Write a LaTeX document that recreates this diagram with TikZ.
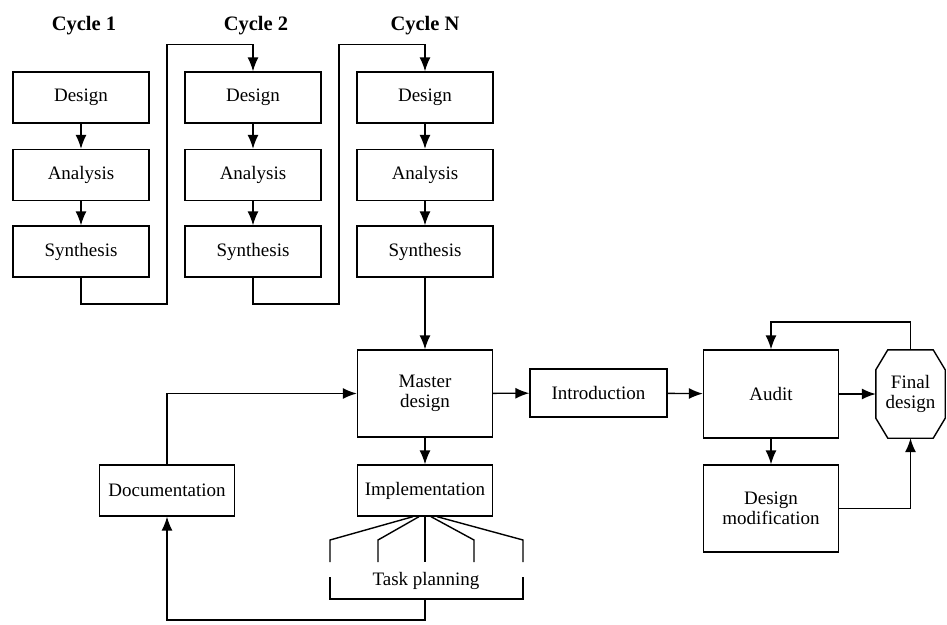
\documentclass[tikz,border=0pt]{standalone}
\usepackage{fontspec}
\setmainfont{Liberation Serif}
\usetikzlibrary{arrows.meta}

\tikzset{
  box/.style={draw, line width=1.3pt, minimum width=136pt, minimum height=51pt, inner sep=0pt, align=center},
  bigbox/.style={box, minimum height=87pt},
  title/.style={font=\fontsize{20.5}{22}\selectfont\bfseries},
  flow/.style={line width=1.4pt, -{Latex[length=14pt,width=11pt]}},
  line/.style={line width=1.4pt}
}

\begin{document}
\begin{tikzpicture}[x=1pt, y=-1pt, font=\fontsize{19}{20.5}\selectfont]

            \useasboundingbox (0,0) rectangle (947,624);

            % Zyklen
            \node[title] (t1) at (84,26) {Cycle 1};
            \node[title] (t2) at (256,26) {Cycle 2};
            \node[title] (t3) at (425,26) {Cycle N};

            \foreach \c/\x in {1/81, 2/253, 3/425} {
              \node[box] (d\c) at (\x,97.5) {Design};
              \node[box] (a\c) at (\x,175) {Analysis};
              \node[box] (s\c) at (\x,251.5) {Synthesis};
              \draw[flow] (d\c) -- (a\c);
              \draw[flow] (a\c) -- (s\c);
            }

            % Uebergaenge zwischen den Zyklen
            \coordinate (k1) at (167,304);
            \coordinate (k2) at (339,304);
            \draw[flow] (s1.south) |- (k1) |- ([yshift=27pt]d2.north) -- (d2.north);
            \draw[flow] (s2.south) |- (k2) |- ([yshift=27pt]d3.north) -- (d3.north);

            % Hauptentwurf
            \node[bigbox, minimum width=135pt] (master) at (425,393.5) {Master\\design};
            \node[box, minimum width=135pt] (impl) at (425,490.5) {Implementation};
            \node[box, minimum width=135pt] (doc) at (167,490.5) {Documentation};
            \node[box, minimum width=137pt, minimum height=48pt] (intro) at (598.5,393) {Introduction};
            \node[bigbox, minimum width=135pt, minimum height=88pt] (audit) at (771,394) {Audit};
            \node[bigbox, minimum width=135pt] (mod) at (771,508.5) {Design\\modification};

            % Achteck
            \node[minimum width=69pt, minimum height=88pt, inner sep=0pt, align=center] (fin) at (910.5,394) {Final\\design};
            \draw[line] ([xshift=12pt]fin.north west) -- ([xshift=-12pt]fin.north east)
              -- ([yshift=-20pt]fin.north east) -- ([yshift=20pt]fin.south east)
              -- ([xshift=-12pt]fin.south east) -- ([xshift=12pt]fin.south west)
              -- ([yshift=20pt]fin.south west) -- ([yshift=-20pt]fin.north west) -- cycle;

            \draw[flow] (s3) -- (master);
            \draw[flow] (master) -- (intro);
            \draw[flow] (master) -- (impl);
            \draw[flow] (intro) -- (audit);
            \draw[flow] (audit) -- (mod);
            \draw[flow] (audit.east) -- (fin.west);
            \draw[flow] (fin.north) -- ++(0,-28) -| (audit.north);
            \draw[flow] (mod.east) -| (fin.south);
            \draw[flow] (doc.north) |- (master.west);

            % Aufgabenplanung
            \node (tp) at (426,581) {Task planning};
            \foreach \s/\e in {-12/330, -6/378, 0/425, 6/474, 12/523} {
              \draw[line] ([xshift=\s pt]impl.south) -- (\e,540) -- (\e,562);
            }
            \coordinate (b1) at (330,599);
            \coordinate (b2) at (523,599);
            \coordinate (bm) at (425,599);
            \draw[line] ([yshift=22pt]b1) -- (b1) -- (b2) -- ([yshift=22pt]b2);
            \draw[flow] (bm) -- ++(0,21) -| (doc.south);

\end{tikzpicture}
\end{document}
